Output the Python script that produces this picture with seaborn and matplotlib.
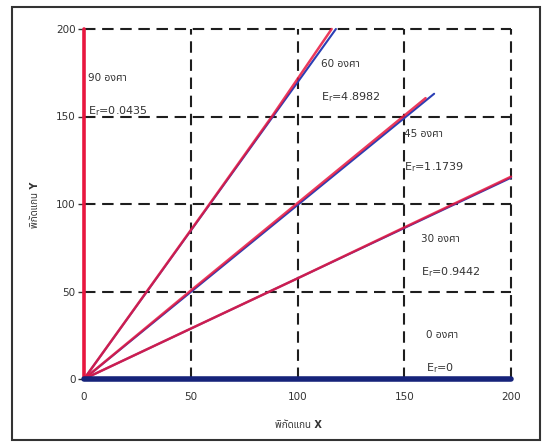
import matplotlib
matplotlib.use("Agg")
import matplotlib.pyplot as plt
import matplotlib.patches as mpatches
import seaborn as sns
import pandas as pd

# Measured trajectories (red) and fitted lines (blue) for each launch angle
angles = ["90", "60", "45", "30", "0"]
errors = ["0.0435", "4.8982", "1.1739", "0.9442", "0"]

meas_x_90 = [0, 0]
meas_y_90 = [0, 200]

meas_x_60 = [0, 29.4, 58.8, 88.0, 116.0]
meas_y_60 = [0, 50, 100, 150, 200]
fit_x_60 = [0, 118.0]
fit_y_60 = [0, 200]

meas_x_45 = [0, 50, 100, 150, 160]
meas_y_45 = [0, 50.5, 100.5, 150.5, 160.5]
fit_x_45 = [0, 164]
fit_y_45 = [0, 163]

meas_x_30 = [0, 50, 100, 150, 200]
meas_y_30 = [0, 28.8, 57.5, 86.6, 115.6]
fit_x_30 = [0, 200]
fit_y_30 = [0, 115.0]

fit_x_0 = [0, 200]
fit_y_0 = [0, 0]

# Label anchor for each angle's annotation (data coordinates)
label_x = [2, 111, 150, 158, 160]
label_y = [172, 180, 140, 80, 25]

x_ticks = [0, 50, 100, 150, 200]
y_ticks = [0, 50, 100, 150, 200]

sns.set_style("white")
plt.rcParams["font.family"] = ["DejaVu Sans", "Noto Sans Thai", "Noto Sans"]

fig = plt.figure(figsize=(5.46, 4.47), dpi=100)
ax = fig.add_axes([84 / 546, 1 - 379 / 447, 427 / 546, 350 / 447])

red = "#e8173f"
blue = "#2b3fb5"
navy = "#16237a"

fits = [(fit_x_60, fit_y_60), (fit_x_45, fit_y_45), (fit_x_30, fit_y_30)]
meas = [(meas_x_60, meas_y_60), (meas_x_45, meas_y_45), (meas_x_30, meas_y_30)]

for fx, fy in fits:
    sns.lineplot(x=fx, y=fy, ax=ax, color=blue, lw=1.5, sort=False, estimator=None,
                 clip_on=False, zorder=3)
for mx, my in meas:
    sns.lineplot(x=mx, y=my, ax=ax, color=red, lw=1.8, sort=False, estimator=None,
                 clip_on=False, zorder=4, alpha=0.85)
sns.lineplot(x=meas_x_90, y=meas_y_90, ax=ax, color=red, lw=2.6, sort=False, estimator=None,
             clip_on=False, zorder=4)
sns.lineplot(x=fit_x_0, y=fit_y_0, ax=ax, color=navy, lw=4, sort=False, estimator=None,
             clip_on=False, zorder=5)

ax.set_xlim(0, 200)
ax.set_ylim(0, 200)
ax.set_xticks(x_ticks)
ax.set_yticks(y_ticks)
for s in ax.spines.values():
    s.set_visible(False)

# Dashed grid, leaving the zero lines to the data
dash = (0, (5.5, 3.2))
for v in x_ticks[1:]:
    ax.plot([v, v], [0, 200], color="#1e1e1e", lw=1.5, ls=dash, zorder=1, clip_on=False)
for v in y_ticks[1:]:
    ax.plot([0, 200], [v, v], color="#1e1e1e", lw=1.5, ls=dash, zorder=1, clip_on=False)

ax.tick_params(axis="y", left=True, length=4, width=1, color="#333333", labelsize=7.5,
               labelcolor="#333333", pad=2)
ax.tick_params(axis="x", bottom=False, length=0, labelsize=7.5, labelcolor="#333333", pad=9)

for ang, err, lx, ly in zip(angles, errors, label_x, label_y):
    ax.text(lx, ly, f"{ang} องศา", fontsize=7.5, color="#333333", va="center", ha="left")
    ax.text(lx, ly - 19, r"E$_\mathregular{r}$=" + err, fontsize=8, color="#333333",
            va="center", ha="left")

fig.text(35 / 546, 1 - 205 / 447, "พิกัดแกน Y", rotation=90, ha="center", va="center",
         fontsize=7, fontweight="bold", color="#333333")
fig.text(298 / 546, 1 - 425 / 447, "พิกัดแกน X", ha="center", va="center",
         fontsize=7, fontweight="bold", color="#333333")

# Outer frame around the whole chart
fig.patches.append(mpatches.Rectangle((12 / 546, 1 - 440 / 447), 528 / 546, 433 / 447,
                                      transform=fig.transFigure, fill=False,
                                      edgecolor="#333333", lw=1.5))

fig.savefig("out.png", dpi=100)
